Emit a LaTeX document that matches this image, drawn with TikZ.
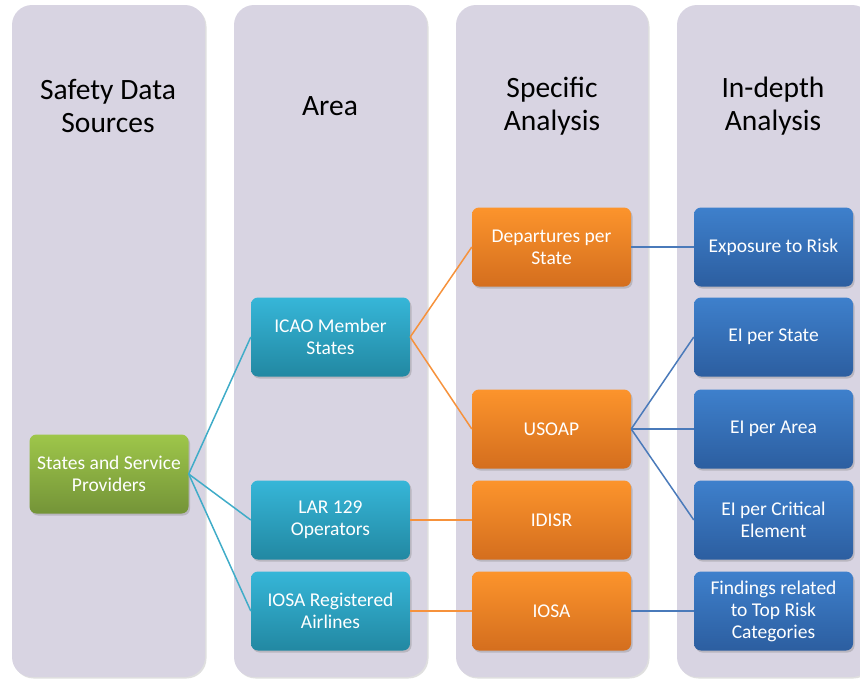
\documentclass[tikz,border=0pt]{standalone}
\usepackage{fontspec}
\setmainfont{Carlito}
\usetikzlibrary{shadows}

\definecolor{panel}{RGB}{216,212,226}
\definecolor{greentop}{RGB}{158,198,74}
\definecolor{greenbot}{RGB}{116,148,56}
\definecolor{tealtop}{RGB}{54,182,216}
\definecolor{tealbot}{RGB}{34,136,162}
\definecolor{orangetop}{RGB}{252,148,44}
\definecolor{orangebot}{RGB}{212,110,30}
\definecolor{bluetop}{RGB}{62,128,204}
\definecolor{bluebot}{RGB}{44,94,160}
\definecolor{tealline}{RGB}{64,172,200}
\definecolor{orangeline}{RGB}{246,146,60}
\definecolor{blueline}{RGB}{74,122,186}

\tikzset{
  panelbox/.style={fill=panel, rounded corners=20pt,
    drop shadow={shadow xshift=1.5pt, shadow yshift=-1.5pt, opacity=0.25}},
  header/.style={align=center, font=\fontsize{29.5}{33}\selectfont, text=black},
  itembox/.style={rounded corners=7pt, minimum width=159pt, minimum height=79pt,
    align=center, text=white,
    font=\fontsize{19.5}{22}\selectfont, inner sep=0pt,
    drop shadow={shadow xshift=1.5pt, shadow yshift=-2pt, opacity=0.35}},
  greenbox/.style={itembox, top color=greentop, bottom color=greenbot},
  tealbox/.style={itembox, top color=tealtop, bottom color=tealbot},
  orangebox/.style={itembox, top color=orangetop, bottom color=orangebot},
  bluebox/.style={itembox, top color=bluetop, bottom color=bluebot},
  link/.style={line width=1.5pt},
}

\begin{document}
\begin{tikzpicture}[x=1pt, y=-1pt]
\useasboundingbox (0,0) rectangle (860,681);

% column panels
\begin{scope}
\clip (0,0) rectangle (860,681);
\fill[panelbox] (12,5) rectangle (205,677);
\fill[panelbox] (234,5) rectangle (427,677);
\fill[panelbox] (456,5) rectangle (648,677);
\fill[panelbox] (677,5) rectangle (872,677);
\end{scope}

% column headings
\node[header] (h1) at (108,106) {Safety Data\\Sources};
\node[header] (h2) at (330,106) {Area};
\node[header] (h3) at (552,106) {Specific\\Analysis};
\node[header] (h4) at (773,106) {In-depth\\Analysis};

% source
\node[greenbox] (src) at (109,474) {States and Service\\Providers};

% areas
\node[tealbox] (icao) at (330.5,337) {ICAO Member\\States};
\node[tealbox] (lar) at (330.5,520) {LAR 129\\Operators};
\node[tealbox] (iosar) at (330.5,611) {IOSA Registered\\Airlines};

% specific analysis
\node[orangebox] (dep) at (551.5,247) {Departures per\\State};
\node[orangebox] (usoap) at (551.5,429) {USOAP};
\node[orangebox] (idisr) at (551.5,520) {IDISR};
\node[orangebox] (iosa) at (551.5,611) {IOSA};

% in-depth analysis
\node[bluebox] (expo) at (773.5,247) {Exposure to Risk};
\node[bluebox] (eistate) at (773.5,337) {EI per State};
\node[bluebox] (eiarea) at (773.5,429) {EI per Area};
\node[bluebox] (eicrit) at (773.5,520) {EI per Critical\\Element};
\node[bluebox] (find) at (773.5,611) {Findings related\\to Top Risk\\Categories};

% connectors
\draw[link, tealline] (src.east) -- (icao.west);
\draw[link, tealline] (src.east) -- (lar.west);
\draw[link, tealline] (src.east) -- (iosar.west);

\draw[link, orangeline] (icao.east) -- (dep.west);
\draw[link, orangeline] (icao.east) -- (usoap.west);
\draw[link, orangeline] (lar.east) -- (idisr.west);
\draw[link, orangeline] (iosar.east) -- (iosa.west);

\draw[link, blueline] (dep.east) -- (expo.west);
\draw[link, blueline] (usoap.east) -- (eistate.west);
\draw[link, blueline] (usoap.east) -- (eiarea.west);
\draw[link, blueline] (usoap.east) -- (eicrit.west);
\draw[link, blueline] (iosa.east) -- (find.west);
\end{tikzpicture}
\end{document}
